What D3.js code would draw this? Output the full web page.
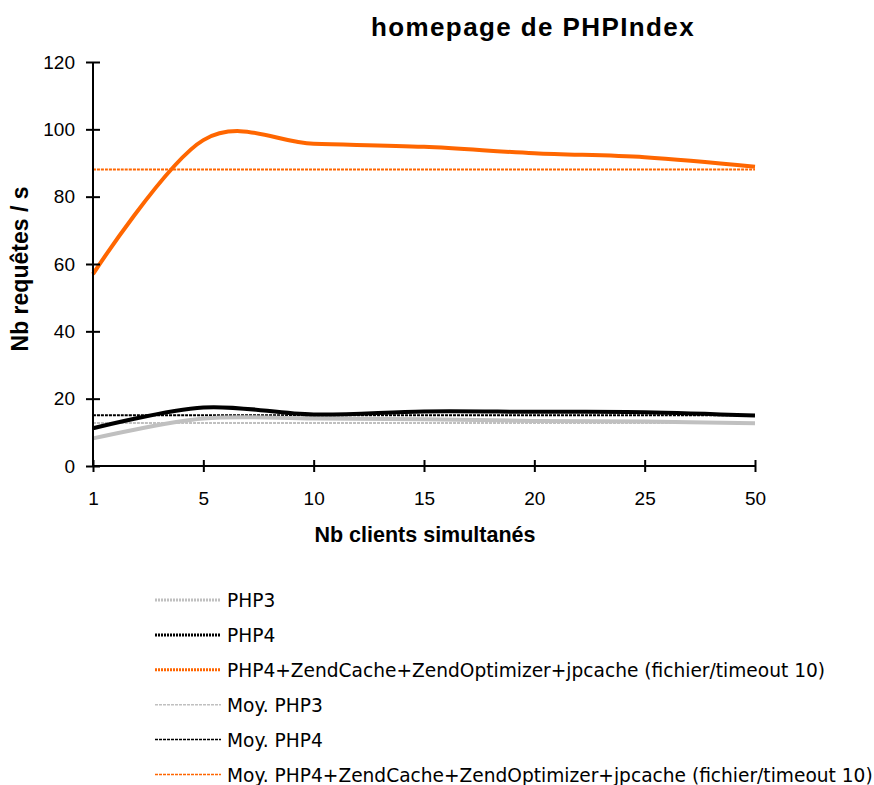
<!DOCTYPE html>
<html>
<head>
<meta charset="utf-8">
<script src="https://cdn.jsdelivr.net/npm/d3@7"></script>
<style>
  body { margin: 0; background: #fff; }
  text { font-family: "Liberation Sans", Arial, sans-serif; fill: #000; }
</style>
</head>
<body>
<div id="chart"></div>
<script>
// categories on the x axis (category axis, equally spaced)
var clients = ["1", "5", "10", "15", "20", "25", "50"];

// series values (requests per second)
var php3 = [8.2, 14.1, 14.1, 13.9, 13.4, 13.2, 12.7];
var php4 = [11.2, 17.4, 15.3, 16.2, 16.1, 16.0, 15.0];
var zend = [57.0, 96.8, 95.7, 94.8, 92.9, 91.7, 88.9];
var moyPhp3 = [12.8, 12.8, 12.8, 12.8, 12.8, 12.8, 12.8];
var moyPhp4 = [15.1, 15.1, 15.1, 15.1, 15.1, 15.1, 15.1];
var moyZend = [88.1, 88.1, 88.1, 88.1, 88.1, 88.1, 88.1];

var yTicks = [0, 20, 40, 60, 80, 100, 120];

var seriesNames = [
    "PHP3",
    "PHP4",
    "PHP4+ZendCache+ZendOptimizer+jpcache (fichier/timeout 10)",
    "Moy. PHP3",
    "Moy. PHP4",
    "Moy. PHP4+ZendCache+ZendOptimizer+jpcache (fichier/timeout 10)"
];

function init() {
    var w = 874, h = 785;
    var left = 93, right = 755, top = 62, bottom = 466;

    var series = [
        { name: seriesNames[0], values: php3, color: "#c0c0c0", avg: false },
        { name: seriesNames[1], values: php4, color: "#000000", avg: false },
        { name: seriesNames[2], values: zend, color: "#ff6600", avg: false },
        { name: seriesNames[3], values: moyPhp3, color: "#c0c0c0", avg: true },
        { name: seriesNames[4], values: moyPhp4, color: "#000000", avg: true },
        { name: seriesNames[5], values: moyZend, color: "#ff6600", avg: true }
    ];

    var svg = d3.select("#chart").append("svg")
        .attr("width", w)
        .attr("height", h);

    var xScale = d3.scalePoint().domain(clients).range([left, right]);
    var yScale = d3.scaleLinear().domain([0, 120]).range([bottom, top]);

    //title
    svg.append("text")
        .attr("x", 533).attr("y", 36)
        .style("text-anchor", "middle")
        .style("font-weight", "bold")
        .style("font-size", "26px")
        .style("letter-spacing", "1.4px")
        .text("homepage de PHPIndex");

    //lines, averages first so data lines sit on top
    var line = d3.line()
        .x((d, i) => xScale(clients[i]))
        .y(d => yScale(d))
        .curve(d3.curveCardinal.tension(0));

    var order = [3, 4, 5, 0, 1, 2];
    order.forEach(function(k) {
        var s = series[k];
        svg.append("path")
            .datum(s.values)
            .attr("fill", "none")
            .attr("stroke", s.color)
            .attr("stroke-width", s.avg ? 2 : 4)
            .attr("stroke-dasharray", s.avg ? "3,1" : null)
            .attr("stroke-linejoin", "round")
            .attr("d", line);
    });

    //axes
    var yAxis = svg.append("g")
        .attr("transform", `translate(${left},0)`)
        .call(d3.axisLeft(yScale).tickValues(yTicks).tickSize(7).tickPadding(11));
    yAxis.selectAll("line").attr("x2", 7).attr("x1", -7);

    var xAxis = svg.append("g")
        .attr("transform", `translate(0,${bottom})`)
        .call(d3.axisBottom(xScale).tickSize(6).tickPadding(20));
    xAxis.selectAll(".tick line").attr("y1", -6).attr("y2", 6);

    [yAxis, xAxis].forEach(function(a) {
        a.select(".domain").attr("stroke", "#000").attr("stroke-width", 2);
        a.selectAll(".tick line").attr("stroke", "#000").attr("stroke-width", 2);
        a.selectAll(".tick text")
            .style("font-size", "19px")
            .style("font-family", "'Liberation Sans', Arial, sans-serif")
            .attr("fill", "#000");
    });
    xAxis.select(".domain").attr("d", `M${left},0H${right}`);
    yAxis.select(".domain").attr("d", `M0,${top}V${bottom}`);

    //axis titles
    svg.append("text")
        .attr("x", 425).attr("y", 542)
        .style("text-anchor", "middle")
        .style("font-weight", "bold")
        .style("font-size", "21.5px")
        .text("Nb clients simultanés");

    svg.append("text")
        .attr("transform", "rotate(-90)")
        .attr("x", -269).attr("y", 28)
        .style("text-anchor", "middle")
        .style("font-weight", "bold")
        .style("font-size", "23px")
        .text("Nb requêtes / s");

    //legend
    var legend = svg.append("g");
    series.forEach(function(s, i) {
        var y = 600 + i * 34.9;
        legend.append("line")
            .attr("x1", 155).attr("x2", 221)
            .attr("y1", y).attr("y2", y)
            .attr("stroke", s.color)
            .attr("stroke-width", s.avg ? 1.5 : 3)
            .attr("stroke-dasharray", s.avg ? "3,1" : "2,1");
        legend.append("text")
            .attr("x", 227).attr("y", y + 7)
            .style("font-family", "'DejaVu Sans', Verdana, sans-serif")
            .style("font-size", "18.6px")
            .text(s.name);
    });
}

window.onload = init;
</script>
</body>
</html>
